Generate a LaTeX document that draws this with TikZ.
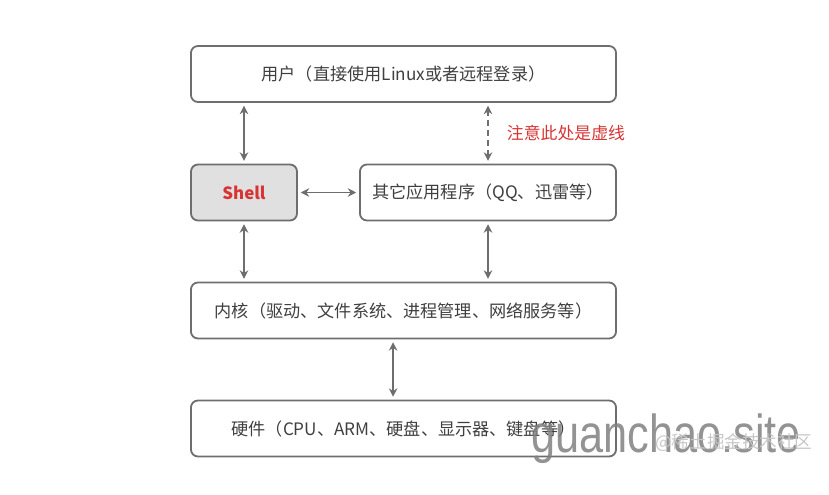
\documentclass[tikz,border=0pt]{standalone}
\usepackage{fontspec}
\setmainfont{Noto Sans CJK SC}
\newfontfamily\markfont[FakeStretch=0.81]{Liberation Sans}
\usetikzlibrary{arrows.meta}

\definecolor{boxgray}{HTML}{6E6E6E}
\definecolor{txtgray}{HTML}{3F3F3F}
\definecolor{shellfill}{HTML}{E0E0E0}
\definecolor{notered}{HTML}{D83434}

\begin{document}
\begin{tikzpicture}[
    x=0.025cm, y=-0.025cm,
    layer/.style={draw=boxgray, line width=1.3pt, rounded corners=5pt,
                  minimum height=1.4cm, minimum width=10.625cm, text=txtgray,
                  font=\fontsize{12.2}{14}\selectfont},
    shellbox/.style={layer, fill=shellfill, text=notered,
                     font=\fontsize{12}{14}\selectfont\bfseries},
    arr/.style={{Stealth[length=6pt,width=6pt]}-{Stealth[length=6pt,width=6pt]},
                line width=1pt, boxgray, shorten >=2pt, shorten <=2pt},
    note/.style={font=\fontsize{12}{14}\selectfont, text=notered, anchor=west},
]
\useasboundingbox (0,0) rectangle (829,494);

% User layer
\node[layer] (user) at (403.5, 74)
    {用户（直接使用Linux或者远程登录）};

% Shell and other applications
\node[shellbox, minimum width=2.65cm] (shell) at (244, 192.5) {Shell};
\node[layer, minimum width=6.4cm] (apps) at (488, 192.5)
    {其它应用程序（QQ、迅雷等）};

% Kernel
\node[layer] (kernel) at (403.5, 310.5)
    {内核（驱动、文件系统、进程管理、网络服务等）};

% Hardware
\node[layer] (hw) at (403.5, 428.5)
    {硬件（CPU、ARM、硬盘、显示器、键盘等）};

% Connectors
\draw[arr] (shell.north) -- (shell.north |- user.south);
\draw[arr, dash pattern=on 4pt off 3pt] (apps.north) -- (apps.north |- user.south);
\node[note] (dashnote) at (502, 133) {注意此处是虚线};
\draw[arr] (shell.east) -- (apps.west);
\draw[arr] (shell.south) -- (shell.south |- kernel.north);
\draw[arr] (apps.south) -- (apps.south |- kernel.north);
\draw[arr] ([xshift=-0.26cm]kernel.south) -- ([xshift=-0.26cm]kernel.south |- hw.north);

% Watermark
\node[anchor=base west, inner sep=0pt, text=black!50, opacity=0.85,
      font=\fontsize{38}{38}\markfont] (mark) at (531, 452) {guanchao.site};
\node[anchor=west, inner sep=0pt, text=black!22, font=\fontsize{12.5}{14}\selectfont]
    (site) at (655, 443) {@稀土掘金技术社区};

\end{tikzpicture}
\end{document}
